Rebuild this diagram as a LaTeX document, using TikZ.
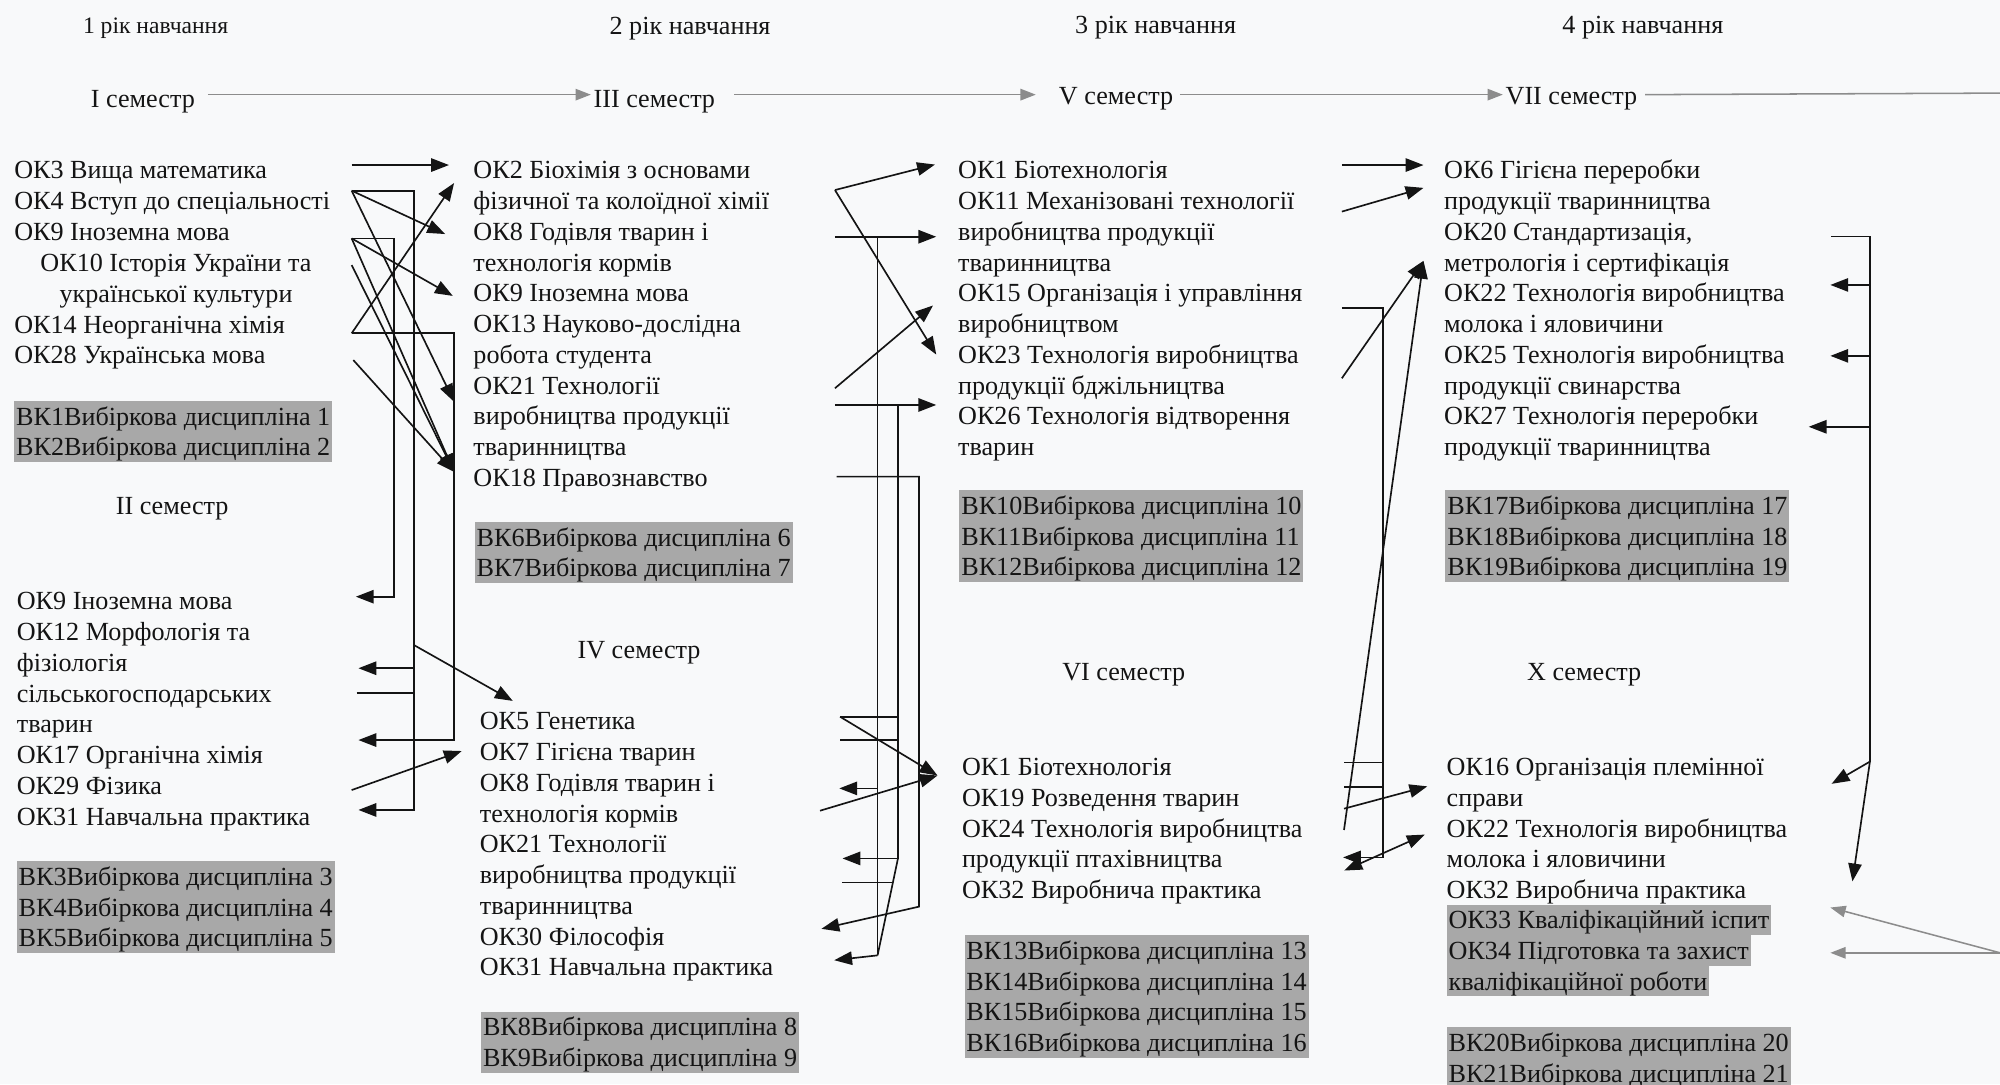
\documentclass[tikz,border=0pt]{standalone}
\usepackage{fontspec}
\setmainfont{Liberation Serif}
\usetikzlibrary{arrows.meta}
\definecolor{vkgray}{HTML}{A8A8A8}
\definecolor{ink}{HTML}{141414}
\definecolor{hdr}{HTML}{8C8C8C}
\definecolor{paper}{HTML}{F8F9FA}
\newcommand\st{\rule[-5pt]{0pt}{24pt}}
\newcommand\bodyfont{\fontsize{20.5pt}{24.1pt}\selectfont}
\begin{document}
\begin{tikzpicture}[x=1pt,y=-1pt,
  every node/.style={font=\bodyfont, text=ink},
  txt/.style={anchor=north west, inner sep=0pt, align=left},
  ctr/.style={anchor=north, inner sep=0pt, align=center},
  vk/.style={txt, fill=vkgray, inner xsep=1.5pt},
  con/.style={draw=ink, line width=1.3pt},
  arr/.style={con, -{Triangle[length=14pt,width=10.5pt]}},
  darr/.style={con, {Triangle[length=14pt,width=10.5pt]}-{Triangle[length=14pt,width=10.5pt]}},
  harr/.style={draw=hdr, line width=1.2pt, -{Triangle[length=12pt,width=9pt]}}]
\useasboundingbox[fill=paper] (0,0) rectangle (1568,850);

% ---------- headers
\node[ctr, font=\fontsize{18.5pt}{22pt}\selectfont] (y1) at (122,7) {\st 1 рік навчання};
\node[ctr] (y2) at (541,8) {\st 2 рік навчання};
\node[ctr] (y3) at (906,7) {\st 3 рік навчання};
\node[ctr] (y4) at (1288,7) {\st 4 рік навчання};
\node[ctr] (s1) at (112,65) {\st I семестр};
\node[ctr] (s3) at (513,65) {\st III семестр};
\node[ctr] (s5) at (875,63) {\st V семестр};
\node[ctr] (s7) at (1232,63) {\st VII семестр};
\coordinate (redge) at (1568,73);
\draw[harr] ([xshift=10pt,yshift=3pt]s1.east) -- ([xshift=-2pt,yshift=3pt]s3.west);
\draw[harr] ([xshift=15pt,yshift=3pt]s3.east) -- ([xshift=-18pt,yshift=1pt]s5.west);
\draw[harr] ([xshift=5pt,yshift=1pt]s5.east) -- ([xshift=-2pt,yshift=1pt]s7.west);
\draw[draw=hdr, line width=1.2pt] ([xshift=6pt,yshift=1pt]s7.east) -- (redge);

% ---------- column 1
\node[txt] (c1a) at (11,121) {\st ОК3 Вища математика\\ \st ОК4 Вступ до спеціальності\\ \st ОК9 Іноземна мова};
\node[ctr] (c1ok10) at (138,194) {\st ОК10 Історія України та\\ \st української культури};
\node[txt] (c1c) at (11,242) {\st ОК14 Неорганічна хімія\\ \st ОК28 Українська мова};
\node[vk] (c1vk) at (11,314) {\st ВК1Вибіркова дисципліна 1\\ \st ВК2Вибіркова дисципліна 2};
\node[ctr] (sem2) at (135,384) {\st II семестр};
\node[txt] (c1d) at (13,459) {\st ОК9 Іноземна мова\\ \st ОК12 Морфологія та\\ \st фізіологія\\ \st сільськогосподарських\\ \st тварин\\ \st ОК17 Органічна хімія\\ \st ОК29 Фізика\\ \st ОК31 Навчальна практика};
\node[vk] (c1vk2) at (13,675) {\st ВК3Вибіркова дисципліна 3\\ \st ВК4Вибіркова дисципліна 4\\ \st ВК5Вибіркова дисципліна 5};

% ---------- column 2
\node[txt] (c2a) at (371,121) {\st ОК2 Біохімія з основами\\ \st фізичної та колоїдної хімії\\ \st ОК8 Годівля тварин і\\ \st технологія кормів\\ \st ОК9 Іноземна мова\\ \st ОК13 Науково-дослідна\\ \st робота студента\\ \st ОК21 Технології\\ \st виробництва продукції\\ \st тваринництва\\ \st ОК18 Правознавство};
\node[vk] (c2vk) at (372,409) {\st ВК6Вибіркова дисципліна 6\\ \st ВК7Вибіркова дисципліна 7};
\node[ctr] (sem4) at (501,497) {\st IV семестр};
\node[txt] (c2b) at (376,553) {\st ОК5 Генетика\\ \st ОК7 Гігієна тварин\\ \st ОК8 Годівля тварин і\\ \st технологія кормів\\ \st ОК21 Технології\\ \st виробництва продукції\\ \st тваринництва\\ \st ОК30 Філософія\\ \st ОК31 Навчальна практика};
\node[vk] (c2vk2) at (377,793) {\st ВК8Вибіркова дисципліна 8\\ \st ВК9Вибіркова дисципліна 9};

% ---------- column 3
\node[txt] (c3a) at (751,121) {\st ОК1 Біотехнологія\\ \st ОК11 Механізовані технології\\ \st виробництва продукції\\ \st тваринництва\\ \st ОК15 Організація і управління\\ \st виробництвом\\ \st ОК23 Технологія виробництва\\ \st продукції бджільництва\\ \st ОК26 Технологія відтворення\\ \st тварин};
\node[vk] (c3vk) at (752,384) {\st ВК10Вибіркова дисципліна 10\\ \st ВК11Вибіркова дисципліна 11\\ \st ВК12Вибіркова дисципліна 12};
\node[ctr] (sem6) at (881,514) {\st VI семестр};
\node[txt] (c3b) at (754,589) {\st ОК1 Біотехнологія\\ \st ОК19 Розведення тварин\\ \st ОК24 Технологія виробництва\\ \st продукції птахівництва\\ \st ОК32 Виробнича практика};
\node[vk] (c3vk2) at (756,733) {\st ВК13Вибіркова дисципліна 13\\ \st ВК14Вибіркова дисципліна 14\\ \st ВК15Вибіркова дисципліна 15\\ \st ВК16Вибіркова дисципліна 16};

% ---------- column 4
\node[txt] (c4a) at (1132,121) {\st ОК6 Гігієна переробки\\ \st продукції тваринництва\\ \st ОК20 Стандартизація,\\ \st метрологія і сертифікація\\ \st ОК22 Технологія виробництва\\ \st молока і яловичини\\ \st ОК25 Технологія виробництва\\ \st продукції свинарства\\ \st ОК27 Технологія переробки\\ \st продукції тваринництва};
\node[vk] (c4vk) at (1133,384) {\st ВК17Вибіркова дисципліна 17\\ \st ВК18Вибіркова дисципліна 18\\ \st ВК19Вибіркова дисципліна 19};
\node[ctr] (sem10) at (1242,514) {\st X семестр};
\node[txt] (c4b) at (1134,589) {\st ОК16 Організація племінної\\ \st справи\\ \st ОК22 Технологія виробництва\\ \st молока і яловичини\\ \st ОК32 Виробнича практика};
\node[vk] (ok33) at (1134,709) {\st ОК33 Кваліфікаційний іспит};
\node[vk] (ok34a) at (1134,733) {\st ОК34 Підготовка та захист};
\node[vk] (ok34b) at (1134,757) {\st кваліфікаційної роботи};
\node[vk] (c4vk2) at (1134,805) {\st ВК20Вибіркова дисципліна 20\\ \st ВК21Вибіркова дисципліна 21};

% ---------- connector points, column 1 -> 2
\coordinate (a3) at (275.7,129.4); \coordinate (t2a) at (352,129.4);
\coordinate (a4) at (275.7,149.5); \coordinate (t8) at (349,183.5);
\coordinate (b4) at (324.5,149.5); \coordinate (b4d) at (324.5,635); \coordinate (t31) at (281,635);
\coordinate (t21) at (356,315);
\coordinate (a9) at (275.7,186.9); \coordinate (b9) at (309,186.9); \coordinate (b9d) at (309,467.8); \coordinate (t9ii) at (279,467.8);
\coordinate (t9) at (355,232);
\coordinate (t18) at (356,370);
\coordinate (a10) at (275.7,207.8);
\coordinate (a14) at (275.7,261.3); \coordinate (t2b) at (356,143.5);
\coordinate (b14) at (356,261.3); \coordinate (b14d) at (356,580.2); \coordinate (t17) at (281,580.2);
\coordinate (a28) at (277,282.3);
\coordinate (j12) at (324.5,523.9); \coordinate (t12) at (281,523.9);
\coordinate (s12a) at (279.6,543.5); \coordinate (s12b) at (324.5,543.5);
\coordinate (j5) at (324.5,505.7); \coordinate (t5) at (402,549.5);
\coordinate (a29) at (275.7,619.4); \coordinate (t7) at (362,588.8);

\draw[arr] (a3) -- (t2a);
\draw[arr] (a4) -- (t8);
\draw[arr] (a4) -- (b4) -- (b4d) -- (t31);
\draw[arr] (a4) -- (t21);
\draw[arr] (a9) -- (b9) -- (b9d) -- (t9ii);
\draw[arr] (a9) -- (t9);
\draw[arr] (a9) -- (t18);
\draw[arr] (a10) -- (t18);
\draw[arr] (a14) -- (t2b);
\draw[arr] (a14) -- (b14) -- (b14d) -- (t17);
\draw[arr] (a28) -- (t18);
\draw[arr] (j12) -- (t12);
\draw[con] (s12a) -- (s12b);
\draw[arr] (j5) -- (t5);
\draw[arr] (a29) -- (t7);

% ---------- column 2 -> 3
\coordinate (a2) at (654.6,149); \coordinate (t1) at (733,129); \coordinate (t23) at (734,278);
\coordinate (a8) at (654.6,185.6); \coordinate (t11) at (734,185.6);
\coordinate (v8) at (688,185.6); \coordinate (v8d) at (688,749);
\coordinate (j8) at (688,618.1); \coordinate (t8iv) at (658,618.1);
\coordinate (t31iv) at (654,752.8);
\coordinate (a21) at (654.6,304.4); \coordinate (t15) at (731.5,239.5);
\coordinate (a21b) at (654.6,317.5); \coordinate (t26) at (734,317.5);
\coordinate (v21) at (704,317.5); \coordinate (v21d) at (704,673); \coordinate (t21iv) at (660.5,673);
\coordinate (s5a) at (658.6,561.9); \coordinate (s5b) at (704,561.9);
\coordinate (s7a) at (658.6,580.2); \coordinate (s7b) at (704,580.2);
\coordinate (s21a) at (660,691.9); \coordinate (s21b) at (700,691.9);
\coordinate (a18) at (656,373.7); \coordinate (v18) at (720.5,373.7); \coordinate (v18d) at (720.5,710.8); \coordinate (t30) at (644,728.2);
\coordinate (t1vi) at (735,608);
\coordinate (a8iv) at (642.9,635.6);

\draw[arr] (a2) -- (t1);
\draw[arr] (a2) -- (t23);
\draw[arr] (a8) -- (t11);
\draw[con] (v8) -- (v8d);
\draw[arr] (j8) -- (t8iv);
\draw[arr] (v8d) -- (t31iv);
\draw[arr] (a21) -- (t15);
\draw[arr] (a21b) -- (t26);
\draw[arr] (v21) -- (v21d) -- (t21iv);
\draw[con] (v21d) -- (v8d);
\draw[con] (s5a) -- (s5b);
\draw[con] (s7a) -- (s7b);
\draw[con] (s21a) -- (s21b);
\draw[arr] (a18) -- (v18) -- (v18d) -- (t30);
\draw[arr] (s5a) -- (t1vi);
\draw[arr] (a8iv) -- (t1vi);

% ---------- column 3 -> 4
\coordinate (a1) at (1052,129.4); \coordinate (t6a) at (1116,129.4);
\coordinate (a11) at (1052,165.9); \coordinate (t6b) at (1116,147.3);
\coordinate (a23) at (1052,296.6); \coordinate (t20) at (1116,204.5);
\coordinate (a24) at (1053.7,650.7);
\coordinate (a15) at (1052,241.7); \coordinate (v15) at (1084.4,241.7);
\coordinate (v15d) at (1084.4,672.2); \coordinate (t24) at (1053,672.2);
\coordinate (s1a) at (1053.7,597.7); \coordinate (s1b) at (1084.4,597.7);
\coordinate (s19a) at (1053.7,616.8); \coordinate (s19b) at (1084.4,616.8);
\coordinate (a19) at (1053.7,634); \coordinate (t16) at (1119,616.5);
\coordinate (d1) at (1054,682.5); \coordinate (d2) at (1117,654.3);

\draw[arr] (a1) -- (t6a);
\draw[arr] (a11) -- (t6b);
\draw[arr] (a23) -- (t20);
\draw[arr] (a24) -- (t20);
\draw[arr] (a15) -- (v15) -- (v15d) -- (t24);
\draw[con] (s1a) -- (s1b);
\draw[con] (s19a) -- (s19b);
\draw[arr] (a19) -- (t16);
\draw[darr] (d1) -- (d2);

% ---------- column 4 right side
\coordinate (a20) at (1435.5,185.5); \coordinate (v20) at (1466,185.5); \coordinate (v20d) at (1466,597.1);
\coordinate (j22) at (1466,223.4); \coordinate (t22) at (1435,223.4);
\coordinate (j25) at (1466,279); \coordinate (t25) at (1435,279);
\coordinate (j27) at (1466,334.6); \coordinate (t27) at (1418,334.6);
\coordinate (t16x) at (1436,614.5); \coordinate (t32x) at (1452.3,691);
\coordinate (g0) at (1568,747); \coordinate (t33) at (1435,711.5); \coordinate (t34) at (1435,747);

\draw[con] (a20) -- (v20) -- (v20d);
\draw[arr] (j22) -- (t22);
\draw[arr] (j25) -- (t25);
\draw[arr] (j27) -- (t27);
\draw[arr] (v20d) -- (t16x);
\draw[arr] (v20d) -- (t32x);
\draw[harr] (g0) -- (t33);
\draw[harr] (g0) -- (t34);
\end{tikzpicture}
\end{document}
